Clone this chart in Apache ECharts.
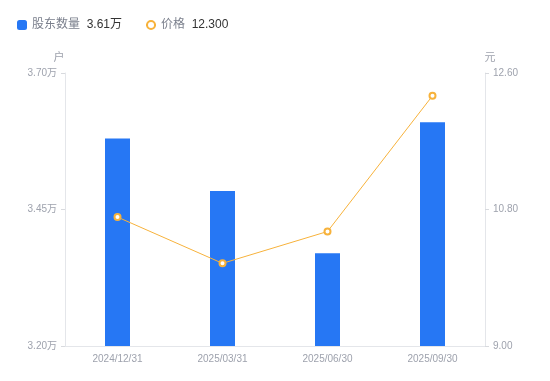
<!DOCTYPE html>
<html><head><meta charset="utf-8">
<script src="https://cdn.jsdelivr.net/npm/echarts@6/dist/echarts.min.js"></script>
<style>html,body{margin:0;padding:0;background:#fff}#c{width:550px;height:381px}</style>
</head><body><div id="c"></div>
<script>
var categories = ['2024/12/31','2025/03/31','2025/06/30','2025/09/30'];
var holders = [3.58, 3.484, 3.37, 3.61];   // 万户
var prices = [10.70, 10.09, 10.51, 12.30];  // 元
var leftTicks = [3.20, 3.45, 3.70];
var rightTicks = [9.00, 10.80, 12.60];

var chart = echarts.init(document.getElementById('c'));
var fam = '"Liberation Sans", Arial, "Noto Sans CJK SC", sans-serif';
chart.setOption({
  animation:false,
  textStyle:{fontFamily:fam},
  legend:{
    left:12, top:14, itemWidth:10, itemHeight:10, itemGap:23,
    data:[{name:'股东数量', icon:'roundRect'},{name:'价格'}],
    formatter:function(n){
      if(n==='股东数量') return '{a|'+n+'}  {b|'+holders[holders.length-1].toFixed(2)+'万}';
      return '{a|'+n+'}  {b|'+prices[prices.length-1].toFixed(3)+'}';
    },
    textStyle:{rich:{a:{color:'#7a7f8c',fontSize:12,fontFamily:fam},b:{color:'#333',fontSize:12,fontFamily:fam}}}
  },
  grid:{left:65,right:65,top:73,bottom:35},
  xAxis:{type:'category',data:categories,
    axisLine:{lineStyle:{color:'#e4e6ea'}},axisTick:{show:false},
    axisLabel:{color:'#9ea2ad',fontSize:10,margin:8}},
  yAxis:[
    {type:'value',name:'户',min:leftTicks[0],max:leftTicks[2],interval:0.25,
     nameTextStyle:{color:'#9ea2ad',fontSize:11,padding:[0,12,0,0]},nameGap:10,
     axisLine:{show:true,lineStyle:{color:'#e4e6ea'}},
     axisTick:{show:true,length:4,lineStyle:{color:'#d8dade'}},
     splitLine:{show:false},
     axisLabel:{color:'#9ea2ad',fontSize:10,margin:8,formatter:function(v){return v.toFixed(2)+'万';}}},
    {type:'value',name:'元',min:rightTicks[0],max:rightTicks[2],interval:1.8,
     nameTextStyle:{color:'#9ea2ad',fontSize:11,padding:[0,0,0,10]},nameGap:10,
     axisLine:{show:true,lineStyle:{color:'#e4e6ea'}},
     axisTick:{show:true,length:4,lineStyle:{color:'#d8dade'}},
     splitLine:{show:false},
     axisLabel:{color:'#9ea2ad',fontSize:10,margin:8,formatter:function(v){return v.toFixed(2);}}}
  ],
  series:[
    {name:'股东数量',type:'bar',data:holders,barWidth:25,yAxisIndex:0,
     itemStyle:{color:'#2677f4'}},
    {name:'价格',type:'line',data:prices,yAxisIndex:1,symbol:'emptyCircle',symbolSize:6,
     lineStyle:{color:'#f7b23b',width:1},itemStyle:{color:'#f7b23b',borderWidth:1.5}}
  ]
});
</script></body></html>
